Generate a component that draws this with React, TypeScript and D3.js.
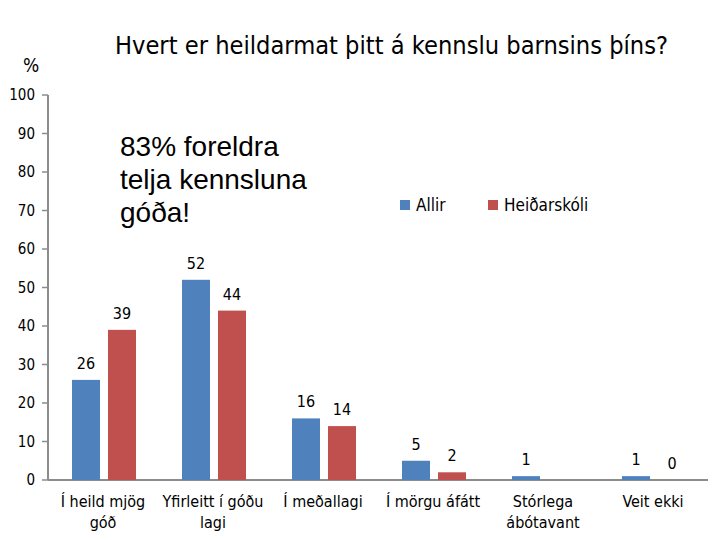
import * as d3 from "d3";

const categories = ["Í heild mjög góð", "Yfirleitt í góðu lagi", "Í meðallagi", "Í mörgu áfátt", "Stórlega ábótavant", "Veit ekki"];
const categoryLines = [["Í heild mjög", "góð"], ["Yfirleitt í góðu", "lagi"], ["Í meðallagi"], ["Í mörgu áfátt"], ["Stórlega", "ábótavant"], ["Veit ekki"]];
const allir = [26, 52, 16, 5, 1, 1];
const heidarskoli: (number | null)[] = [39, 44, 14, 2, null, 0];
const yTicks = [0, 10, 20, 30, 40, 50, 60, 70, 80, 90, 100];
const seriesNames = ["Allir", "Heiðarskóli"];
const colors = ["#4F81BD", "#C0504D"];

const font = "'Liberation Sans Narrow', 'DejaVu Sans Condensed', 'Open Sans', sans-serif";

export default function App() {
  const W = 720;
  const H = 540;
  const x0 = 48;
  const x1 = 708;
  const y = d3.scaleLinear().domain([0, 100]).range([480, 95]);
  const x = d3.scaleBand<string>().domain(categories).range([x0, x1]).paddingInner(0).paddingOuter(0);
  const inner = d3.scaleBand<number>().domain([0, 1]).range([24, 88]).paddingInner(8 / 36);

  return (
    <svg width={W} height={H} style={{ position: "absolute", left: 0, top: 0, background: "#fff" }}>
      <text x={115} y={54} textLength={553} lengthAdjust="spacingAndGlyphs" fontFamily={font} fontSize={25} fill="#000">
        Hvert er heildarmat þitt á kennslu barnsins þíns?
      </text>
      <text x={31} y={72} textAnchor="middle" fontFamily={font} fontSize={19} fill="#000">%</text>

      {/* y axis */}
      <line x1={x0} x2={x0} y1={y(100)} y2={y(0)} stroke="#8c8c8c" strokeWidth={2} />
      {yTicks.map(t => (
        <g key={t}>
          <line x1={x0 - 6} x2={x0} y1={y(t)} y2={y(t)} stroke="#8c8c8c" strokeWidth={1.5} />
          <text x={35} y={y(t)} dy="0.35em" textAnchor="end" fontFamily={font} fontSize={15} fill="#000">{t}</text>
        </g>
      ))}
      <line x1={x0} x2={x1} y1={y(0)} y2={y(0)} stroke="#8c8c8c" strokeWidth={2} />

      {/* bars */}
      {categories.map((c, i) => {
        const vals = [allir[i], heidarskoli[i]];
        return (
          <g key={c} transform={`translate(${x(c)},0)`}>
            {vals.map((v, j) =>
              v === null ? null : (
                <g key={j}>
                  {v > 0 && (
                    <rect x={inner(j)} y={y(v)} width={inner.bandwidth()} height={y(0) - y(v)} fill={colors[j]} />
                  )}
                  <text
                    x={(inner(j) as number) + inner.bandwidth() / 2}
                    y={y(v) - 11}
                    textAnchor="middle"
                    fontFamily={font}
                    fontSize={16}
                    fill="#000"
                  >
                    {v}
                  </text>
                </g>
              )
            )}
          </g>
        );
      })}

      {/* category labels */}
      {categories.map((c, i) => (
        <text key={c} textAnchor="middle" fontFamily={font} fontSize={16} fill="#000">
          {categoryLines[i].map((l, k) => (
            <tspan key={k} x={(x(c) as number) + x.bandwidth() / 2} y={507 + k * 21}>{l}</tspan>
          ))}
        </text>
      ))}

      {/* annotation */}
      <text fontFamily="'Liberation Sans', Arial, sans-serif" fontSize={28} fill="#000">
        <tspan x={120} y={156}>83% foreldra</tspan>
        <tspan x={120} y={189}>telja kennsluna</tspan>
        <tspan x={120} y={222}>góða!</tspan>
      </text>

      {/* legend */}
      {seriesNames.map((s, j) => (
        <g key={s} transform={`translate(${400 + j * 88},0)`}>
          <rect x={0} y={200} width={10} height={10} fill={colors[j]} />
          <text x={16} y={205} dy="0.35em" fontFamily={font} fontSize={17} fill="#000">{s}</text>
        </g>
      ))}
    </svg>
  );
}
